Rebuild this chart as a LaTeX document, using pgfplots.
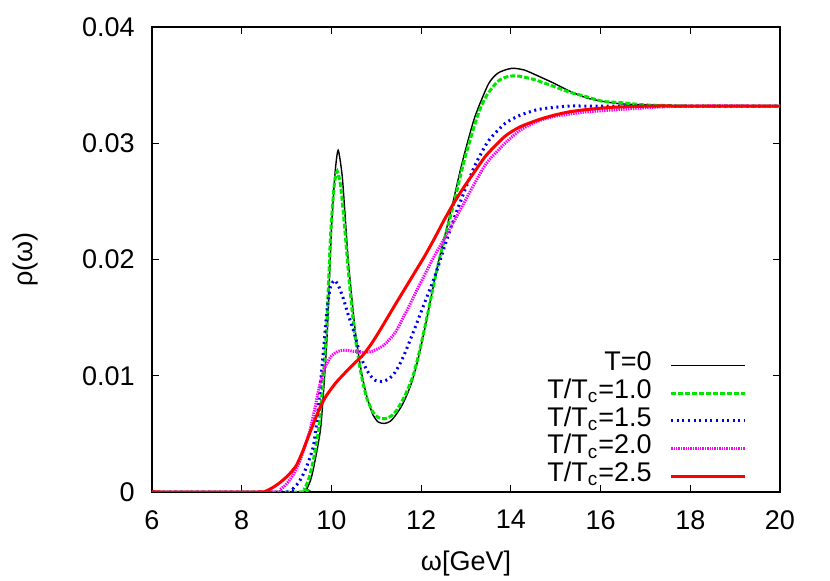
\documentclass[border=0pt]{standalone}
\usepackage{pgfplots}
\pgfplotsset{compat=1.18}
\usepackage{fontspec}
\setmainfont{Liberation Sans}

\definecolor{gpgreen}{RGB}{0,230,0}
\definecolor{gpblue}{RGB}{0,0,240}
\definecolor{gpmagenta}{RGB}{255,0,255}
\definecolor{gpred}{RGB}{255,0,0}

\begin{document}
\fontsize{13.5}{16}\selectfont
\begin{tikzpicture}
\path[use as bounding box] (-76pt,-44.5pt) rectangle (339pt,246pt);
\begin{axis}[
    at={(0,0)}, anchor=south west,
    scale only axis,
    width=314pt, height=232.5pt,
    xmin=6, xmax=20,
    ymin=0, ymax=0.04,
    xtick={6,8,...,20},
    ytick={0,0.01,0.02,0.03,0.04},
    yticklabels={0,0.01,0.02,0.03,0.04},
    /pgf/number format/assume math mode=true,
    tick align=inside,
    major tick length=3.3pt,
    minor tick num=0,
    axis line style={line width=0.6pt},
    every tick/.style={black, line width=0.5pt},
    xticklabel style={yshift=-4.5pt},
    yticklabel style={xshift=-4pt},
    scaled y ticks=false,
    xlabel={ω[GeV]},
    ylabel={ρ(ω)},
    xlabel style={at={(axis description cs:0.5,-0.153)}, anchor=center},
    ylabel style={at={(axis description cs:-0.201,0.5)}, anchor=center},
    legend plot pos=right,
    legend cell align=right,
    legend style={at={(axis description cs:0.9475,0.3026)}, anchor=north east,
        draw=none, fill=none, inner sep=0pt, column sep=9pt,
        nodes={inner sep=0pt, text height=9.5pt, text depth=4.35pt}},
    legend image code/.code={\draw[#1] (0pt,0pt) -- (37pt,0pt);},
]

% T = 0
\addplot[black, line width=0.7pt, smooth, tension=0.4] coordinates {
    (6,0) (9.3,0) (9.45,0.0003) (9.55,0.0012) (9.65,0.0030) (9.76,0.0055)
    (9.84,0.0095) (9.91,0.0139) (10.0,0.0225) (10.08,0.0274) (10.15,0.0294)
    (10.24,0.0272) (10.31,0.0235) (10.38,0.0197) (10.53,0.0139) (10.66,0.0105)
    (10.79,0.0082) (10.93,0.0066) (11.05,0.0060) (11.19,0.0059) (11.32,0.0061)
    (11.45,0.0067) (11.58,0.0075) (11.71,0.0086) (11.82,0.0098) (11.95,0.0117)
    (12.09,0.0142) (12.23,0.0169) (12.38,0.0197) (12.55,0.0224) (12.72,0.0251)
    (12.85,0.0273) (12.98,0.0293) (13.2,0.0323) (13.5,0.0351) (13.7,0.0360)
    (13.87,0.0363) (14.05,0.03645) (14.3,0.0363) (14.6,0.0358) (14.94,0.0352)
    (15.3,0.0345) (15.69,0.0339) (16.05,0.0336) (16.43,0.0334) (17,0.0333)
    (18,0.0332) (20,0.0332)
};
\addlegendentry{T=0}

% T/Tc = 1.0
\addplot[gpgreen, line width=1.5pt, dash pattern=on 2.5pt off 1pt, smooth, tension=0.4] coordinates {
    (6,0) (9.25,0) (9.4,0.0003) (9.5,0.0012) (9.6,0.0028) (9.72,0.0055)
    (9.81,0.0095) (9.89,0.0139) (9.98,0.0220) (10.06,0.0263) (10.13,0.0276)
    (10.21,0.0262) (10.3,0.0225) (10.4,0.0180) (10.51,0.0139) (10.64,0.0106)
    (10.77,0.0083) (10.92,0.0069) (11.05,0.0064) (11.19,0.0063) (11.32,0.0065)
    (11.45,0.0070) (11.64,0.0083) (11.82,0.0100) (11.95,0.0119) (12.09,0.0143)
    (12.23,0.0169) (12.38,0.0196) (12.55,0.0222) (12.72,0.0247) (12.98,0.0288)
    (13.27,0.0325) (13.46,0.0341) (13.7,0.0353) (13.9,0.0357) (14.13,0.0358)
    (14.5,0.0355) (14.95,0.0349) (15.3,0.0344) (15.69,0.0340) (16.05,0.0336)
    (16.43,0.0335) (17,0.0333) (18,0.0332) (20,0.0332)
};
\addlegendentry{T/T\textsubscript{c}=1.0}

% T/Tc = 1.5
\addplot[gpblue, line width=1.5pt, dash pattern=on 1pt off 1.8pt, smooth, tension=0.4] coordinates {
    (6,0) (9.0,0) (9.15,0.0003) (9.3,0.0010) (9.45,0.0022) (9.6,0.0040)
    (9.7,0.0070) (9.8,0.0112) (9.89,0.0152) (9.97,0.0175) (10.06,0.0182)
    (10.15,0.0178) (10.26,0.0167) (10.37,0.0153) (10.49,0.0139) (10.6,0.0124)
    (10.71,0.0111) (10.85,0.0101) (10.98,0.0096) (11.12,0.0095) (11.27,0.0097)
    (11.42,0.0103) (11.6,0.0116) (11.86,0.0141) (12.08,0.0163) (12.31,0.0186)
    (12.52,0.0211) (12.75,0.0237) (13.0,0.0262) (13.2,0.0281) (13.5,0.0302)
    (13.87,0.0317) (14.2,0.0324) (14.6,0.0329) (15.0,0.0331) (15.32,0.0332)
    (16,0.0332) (20,0.0332)
};
\addlegendentry{T/T\textsubscript{c}=1.5}

% T/Tc = 2.0
\addplot[gpmagenta, line width=1.5pt, dash pattern=on 0.7pt off 0.5pt, smooth, tension=0.4] coordinates {
    (6,0) (8.7,0) (8.85,0.0002) (9.0,0.0007) (9.15,0.0015) (9.3,0.0027)
    (9.43,0.0042) (9.52,0.0053) (9.62,0.0070) (9.72,0.0089) (9.8,0.0101)
    (9.89,0.0110) (10.0,0.0117) (10.15,0.0121) (10.3,0.0122) (10.5,0.0121)
    (10.71,0.0120) (10.9,0.0121) (11.16,0.0126) (11.42,0.0137) (11.64,0.0153)
    (11.86,0.0170) (12.08,0.0187) (12.31,0.0204) (12.53,0.0219) (12.75,0.0234)
    (13.0,0.0252) (13.2,0.0266) (13.46,0.0283) (13.87,0.0300) (14.2,0.0311)
    (14.6,0.0319) (14.95,0.0323) (15.3,0.0325) (15.69,0.0327) (16.43,0.0329)
    (17.2,0.0331) (18,0.0332) (20,0.0332)
};
\addlegendentry{T/T\textsubscript{c}=2.0}

% T/Tc = 2.5
\addplot[gpred, line width=1.5pt, smooth, tension=0.4] coordinates {
    (6,0) (8.4,0) (8.55,0.0001) (8.7,0.0004) (8.85,0.0008) (9.0,0.0013)
    (9.1,0.0017) (9.22,0.0023) (9.35,0.0034) (9.47,0.0046) (9.6,0.0059)
    (9.75,0.0073) (9.89,0.0083) (10.1,0.0094) (10.34,0.0104) (10.52,0.0111)
    (10.71,0.0118) (10.9,0.0128) (11.08,0.0139) (11.25,0.0150) (11.42,0.0161)
    (11.64,0.0175) (11.86,0.0189) (12.08,0.0203) (12.31,0.0219) (12.5,0.0233)
    (12.72,0.0248) (12.95,0.0262) (13.2,0.0276) (13.46,0.0290) (13.87,0.0306)
    (14.2,0.0314) (14.6,0.0320) (14.95,0.0324) (15.3,0.0327) (15.69,0.0329)
    (16.3,0.0331) (17.17,0.0332) (18,0.0332) (20,0.0332)
};
\addlegendentry{T/T\textsubscript{c}=2.5}

\end{axis}
\end{tikzpicture}
\end{document}
